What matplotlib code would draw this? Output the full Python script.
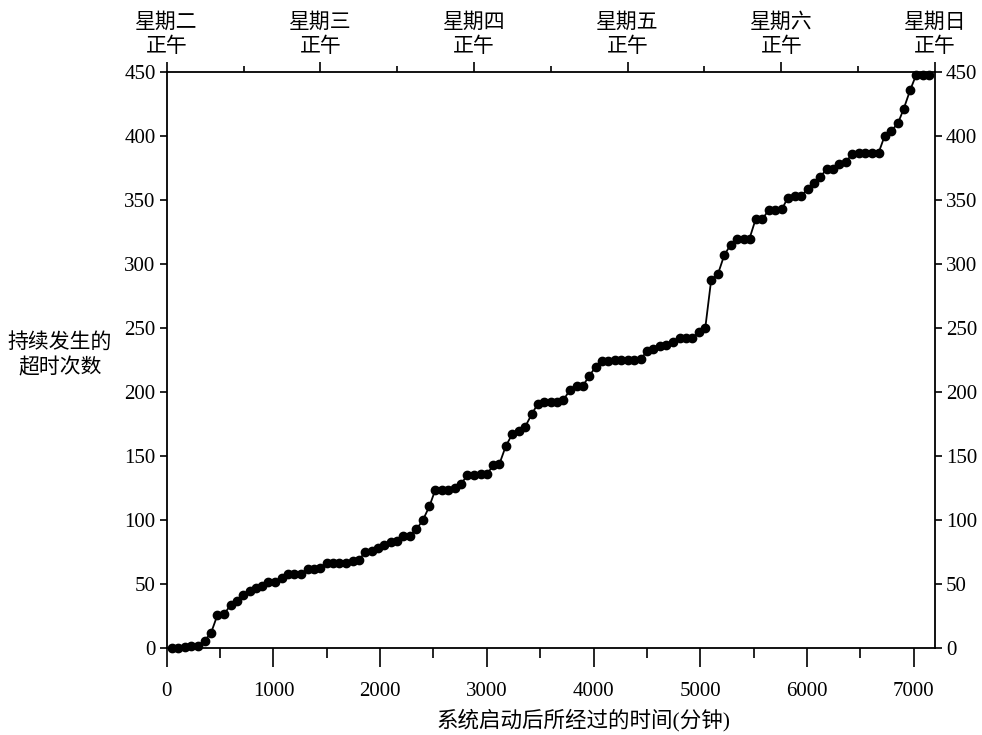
import matplotlib
matplotlib.use("Agg")
import matplotlib.pyplot as plt
from matplotlib.ticker import MultipleLocator

# serif for the numbers, CJK sans for the Chinese text
plt.rcParams['font.family'] = ['Liberation Serif', 'Noto Sans CJK SC']

# ── Données ────────────────────────────────────────────────────────────────────
minutes = [45, 110, 170, 230, 290, 355, 415, 475, 540, 600,
           656, 715, 778, 834, 897, 953, 1015, 1078, 1134, 1197,
           1259, 1322, 1378, 1440, 1500, 1562, 1618, 1681, 1744, 1800,
           1859, 1922, 1978, 2040, 2100, 2159, 2218, 2281, 2340, 2400,
           2462, 2518, 2581, 2640, 2700, 2756, 2815, 2878, 2947, 3000,
           3062, 3118, 3178, 3237, 3300, 3359, 3422, 3478, 3540, 3600,
           3659, 3718, 3781, 3844, 3900, 3962, 4022, 4078, 4140, 4203,
           4259, 4322, 4380, 4444, 4500, 4562, 4625, 4681, 4744, 4806,
           4862, 4925, 4984, 5047, 5103, 5165, 5225, 5284, 5344, 5406,
           5462, 5519, 5581, 5640, 5703, 5766, 5822, 5884, 5947, 6006,
           6068, 6122, 6184, 6247, 6303, 6366, 6425, 6484, 6547, 6609,
           6672, 6728, 6790, 6853, 6906, 6968, 7025, 7088, 7147]

timeouts = [0, 0, 1, 2, 2, 6, 12, 26, 27, 34,
            37, 42, 45, 47, 49, 52, 52, 55, 58, 58,
            58, 62, 62, 63, 67, 67, 67, 67, 68, 69,
            75, 76, 78, 81, 83, 84, 88, 88, 93, 100,
            111, 124, 124, 124, 125, 128, 135, 135, 136, 136,
            143, 144, 158, 167, 170, 173, 183, 191, 192, 192,
            192, 194, 202, 205, 205, 213, 220, 224, 224, 225,
            225, 225, 225, 226, 232, 234, 236, 237, 239, 242,
            242, 242, 247, 250, 288, 292, 307, 315, 320, 320,
            320, 335, 335, 342, 342, 343, 352, 353, 353, 359,
            363, 368, 374, 374, 378, 380, 386, 387, 387, 387,
            387, 400, 404, 410, 421, 436, 448, 448, 448]

noon_ticks  = [0, 1440, 2880, 4320, 5760, 7200]
noon_labels = ["星期二\n正午", "星期三\n正午", "星期四\n正午",
               "星期五\n正午", "星期六\n正午", "星期日\n正午"]
midnight_ticks = [720, 2160, 3600, 5040, 6480]

# ── Figure ─────────────────────────────────────────────────────────────────────
fig = plt.figure(figsize=(9.82, 7.35), dpi=100)
ax = fig.add_axes([0.1698, 0.1179, 0.7823, 0.7841])

ax.plot(minutes, timeouts, '-o', color='black', lw=1.3, ms=6,
        clip_on=False, zorder=3)

ax.set_xlim(0, 7200)
ax.set_ylim(0, 450)
ax.xaxis.set_major_locator(MultipleLocator(1000))
ax.xaxis.set_minor_locator(MultipleLocator(500))
ax.yaxis.set_major_locator(MultipleLocator(50))

for s in ax.spines.values():
    s.set_linewidth(1.3)

ax.tick_params(axis='x', which='major', direction='out', length=14, width=1.2,
               labelsize=15, pad=10)
ax.tick_params(axis='x', which='minor', direction='out', length=7, width=1.2)
ax.tick_params(axis='y', which='major', direction='out', length=5, width=1.2,
               labelsize=15, pad=3, left=True, right=True,
               labelleft=True, labelright=True)

# axe du haut : jours de la semaine
top = ax.twiny()
top.set_xlim(ax.get_xlim())
top.set_xticks(noon_ticks)
top.set_xticklabels(noon_labels, fontsize=15, linespacing=1.3)
top.set_xticks(midnight_ticks, minor=True)
top.tick_params(axis='x', which='major', direction='out', length=7, width=1.2, pad=4)
top.tick_params(axis='x', which='minor', direction='out', length=4.5, width=1.2)
for s in top.spines.values():
    s.set_visible(False)

fig.text(0.061, 0.516, "持续发生的\n超时次数", fontsize=15, ha='center',
         va='center', multialignment='center', linespacing=1.35)
fig.text(0.5937, 0.0204, "系统启动后所经过的时间(分钟)", fontsize=15.5,
         ha='center', va='center')

fig.savefig("out.png", dpi=100)
